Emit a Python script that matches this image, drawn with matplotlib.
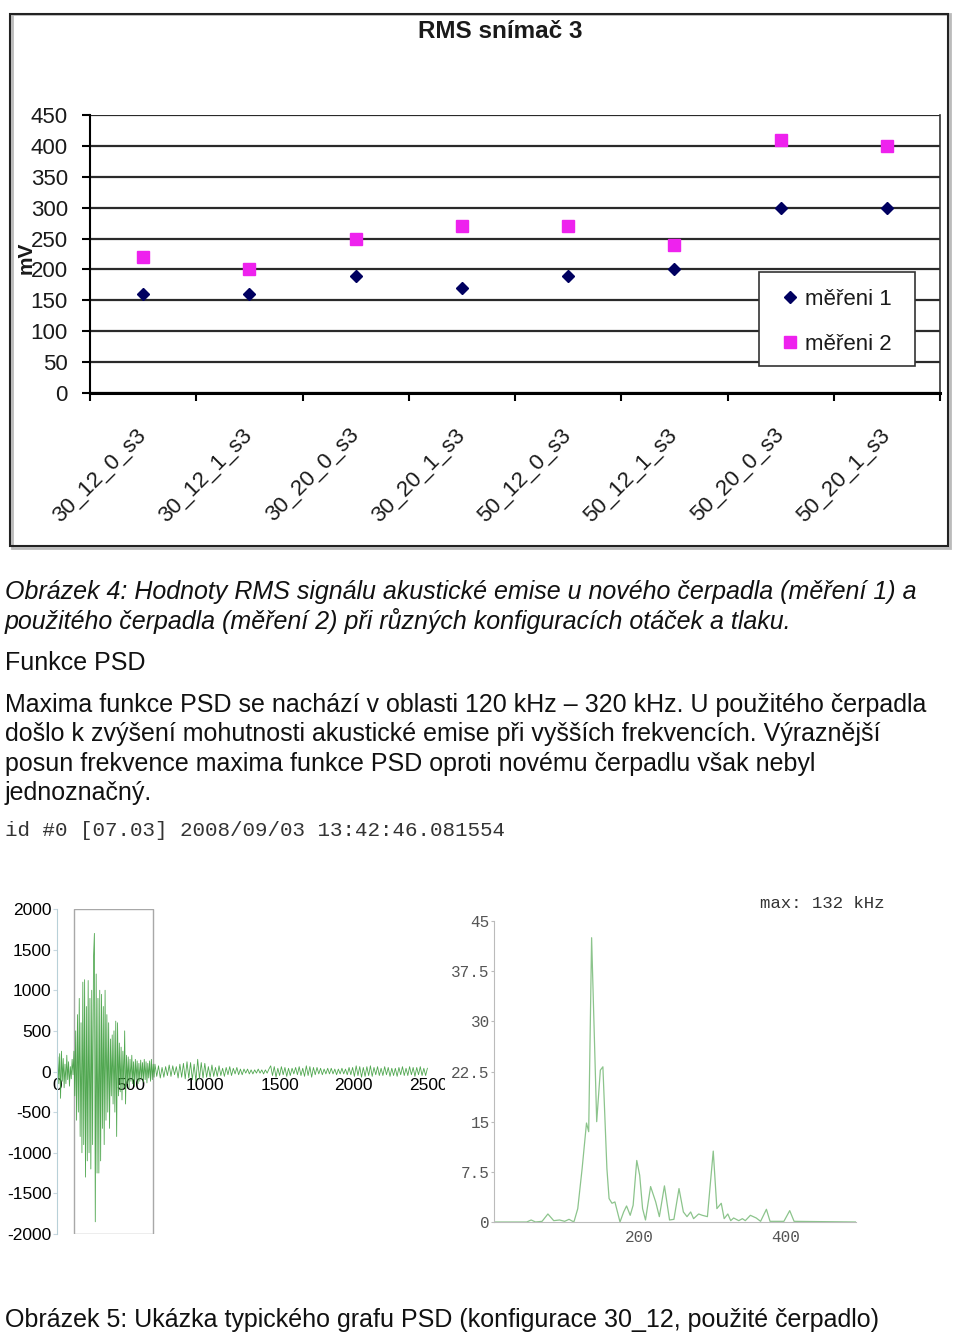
import numpy as np
import matplotlib
matplotlib.use('Agg')
import matplotlib.pyplot as plt
from matplotlib.patches import Rectangle
from matplotlib.transforms import Bbox, TransformedBbox

plt.rcParams['font.family'] = ['Liberation Sans', 'DejaVu Sans']
plt.rcParams['axes.unicode_minus'] = False

# --- data: RMS chart ---
categories = ['30_12_0_s3', '30_12_1_s3', '30_20_0_s3', '30_20_1_s3',
              '50_12_0_s3', '50_12_1_s3', '50_20_0_s3', '50_20_1_s3']
mereni1 = [160, 160, 190, 170, 190, 200, 300, 300]
mereni2 = [220, 200, 250, 270, 270, 240, 410, 400]

# --- data: time signal (sample step 6 up to 654, then step 12) ---
wave_head = [0, 180, -150, 220, -330, 250, -120, 160, -200, 90, -150, 200, -100, 120, -180, 60, -90, 150, -40,
             250, -300, 500, -600, 700, -500, 900, -800, 600, -1000,
             1100, -900, 1130, -1300, 800, -1100, 1120, -1000, 900, -1200,
             1000, -900, 1400, 1700, -1850, 1200, -1250, 900, -1250, 1000,
             -1100, 950, -700, 800, -900, 1000, -600, 700, -500, 600,
             -700, 400, -300, 450, -400, 500, -500, 620, -800, 600,
             -300, 350, -250, 300, -350, 250, -200, 500, -400, 200,
             -150, 180, -200, 150, -120, 200, -150, 120, -180, 150,
             -100, 130, -150, 100, -120, 140, -90, 110, -130, 150,
             -100, 120, -140, 100, -80, 130, -120, 150, -100, 90, -70]
wave_tail = [90, -60, 70, -80, 50, -70, 60, -50, 80, -60, 70, -40, 60,
             -80, 90, -70, 100, -90, 120, -80, 110, -100, 90, -120, 150, -90, 110, -80, 100, -70,
             60, -70, 80, -60, 50, -60, 70, -50, 40, -60, 50, -40, 60, -50, 40, -30, 50, -40, 30, -40, 30, -20, 30, -30,
             20, -30, 20, -20, 30, -20, 20, -30, 20, -20, 30,
             70, -50, 60, -70, 40, -50, 60, -40, 50, -60, 40, -50, 40, -30, 50, -40, 60, -50, 40, -60, 70, -50, 60,
             -70, 50, -40, 50, -30, 40, -40, 30, -30, 40, -30, 40, -30, 30, -40, 30, -30, 40, -30, 30, -40, 50, -40, 50,
             -60, 70, -50, 60, -70, 50, -60, 60, -50, 70, -60, 50, -40, 60, -50, 40, -50, 60,
             -40, 50, -60, 40, -50, 40, -60, 50, -40, 60, -50, 40, -50, 60, -40, 50, -60, 50, -40, 60, -50, 40, -50, 40]

# --- data: PSD ---
psd_freq = [0, 45, 51, 57, 66, 74, 82, 90, 97, 103, 108, 110, 115, 121, 127, 130, 134, 141, 146, 149.5,
            155, 158, 162, 166, 173, 178, 182, 187, 191, 196, 200, 204, 208, 215, 222, 227, 234, 241, 247, 254,
            260, 265, 270, 274, 281, 286, 293, 301, 306, 312, 316, 321, 325, 329, 336, 341, 345, 352, 360, 366,
            374, 379, 398, 406, 412, 497]
psd_val = [0, 0, 0.3, 0, 0.1, 1.2, 0.2, 0.3, 0.1, 0.4, 0.1, 0.1, 2, 8, 14.8, 13.5, 42.5, 15, 22.7, 23.2,
           8, 3.5, 2.8, 3, 0, 1.5, 2.4, 1, 2.5, 9.2, 7, 2, 0.3, 5.3, 3, 0.8, 5.4, 0.3, 0.4, 5,
           1.5, 0.8, 1.5, 0.5, 1.2, 1.0, 0.8, 10.6, 2, 2.8, 0.5, 1.2, 0.2, 0.6, 0.2, 0.5, 0.2, 1.0, 0.6, 0.1,
           1.9, 0.1, 0.1, 1.7, 0.1, 0]
psd_yticks = [0, 7.5, 15, 22.5, 30, 37.5, 45]
psd_ylabels = ['0', '7.5', '15', '22.5', '30', '37.5', '45']

W, H = 960, 1337
def fx(px): return px / W
def fy(py): return 1 - py / H
def box(l, t, r, b): return [fx(l), fy(b), (r - l) / W, (b - t) / H]

fig = plt.figure(figsize=(9.6, 13.37), dpi=100)

# outer frame of the RMS chart
fig.patches.append(Rectangle((fx(12), fy(548)), (938) / W, (534) / H, transform=fig.transFigure,
                             fill=False, edgecolor='#bbbbbb', lw=2))
fig.patches.append(Rectangle((fx(10), fy(546)), (938) / W, (532) / H, transform=fig.transFigure,
                             fill=False, edgecolor='#222222', lw=1.5))

ax = fig.add_axes(box(90, 115, 940, 393))
x = np.arange(len(categories)) + 0.5
ax.plot(x, mereni1, 'D', color='#000060', ms=6, label='měřeni 1', zorder=3)
ax.plot(x, mereni2, 's', color='#ee22ee', ms=8, label='měřeni 2', zorder=3)
ax.set_xlim(0, len(categories))
ax.set_ylim(0, 450)
ax.set_yticks(np.arange(0, 451, 50))
ax.grid(axis='y', color='#2a2a2a', lw=1.6)
ax.set_axisbelow(True)
ax.spines['top'].set_visible(False)
ax.spines['right'].set_color('#333333')
ax.spines['right'].set_linewidth(1.2)
ax.spines['left'].set_linewidth(1.5)
ax.spines['bottom'].set_linewidth(2.2)
ax.tick_params(axis='y', length=6, width=1.5, pad=10, labelsize=16, labelcolor='#1a1a1a')
ax.set_xticks(x)
ax.set_xticklabels(categories, rotation=45, ha='right', va='center', rotation_mode='anchor',
                   fontsize=16, color='#1a1a1a')
ax.tick_params(axis='x', length=0, pad=28)
ax.set_xticks(np.arange(0, len(categories) + 1), minor=True)
ax.tick_params(axis='x', which='minor', length=6, width=1.5, direction='out')
fig.text(fx(500), fy(31), 'RMS snímač 3', ha='center', va='center', fontsize=17.5, weight='bold', color='#1a1a1a')
fig.text(fx(26), fy(258), 'mV', ha='center', va='center', rotation=90, fontsize=15, weight='bold', color='#1a1a1a')

# legend: own frame, entries placed inside
ax.add_patch(Rectangle((fx(759), fy(366)), 156 / W, 94 / H, transform=fig.transFigure, clip_on=False,
                       facecolor='white', edgecolor='#333333', lw=1.2, zorder=4))
leg = ax.legend(loc='upper left', bbox_to_anchor=(fx(783), fy(289)), bbox_transform=fig.transFigure,
                fontsize=16, frameon=False, handlelength=0.6, handletextpad=0.4,
                labelspacing=1.08, borderpad=0, borderaxespad=0, labelcolor='#1a1a1a')
leg.set_zorder(5)

# --- body text ---
txt = dict(fontsize=18, color='#111111', ha='left', va='center')
fig.text(fx(5), fy(592), 'Obrázek 4: Hodnoty RMS signálu akustické emise u nového čerpadla (měření 1) a',
         style='italic', **txt)
fig.text(fx(5), fy(621), 'použitého čerpadla (měření 2) při různých konfiguracích otáček a tlaku.',
         style='italic', **txt)
fig.text(fx(5), fy(663), 'Funkce PSD', **txt)
para = ['Maxima funkce PSD se nachází v oblasti 120 kHz – 320 kHz. U použitého čerpadla',
        'došlo k zvýšení mohutnosti akustické emise při vyšších frekvencích. Výraznější',
        'posun frekvence maxima funkce PSD oproti novému čerpadlu však nebyl',
        'jednoznačný.']
for i, line in enumerate(para):
    fig.text(fx(5), fy(705 + i * 29.3), line, **txt)
fig.text(fx(5), fy(831), 'id #0 [07.03] 2008/09/03 13:42:46.081554', fontsize=15,
         family=['Liberation Mono', 'DejaVu Sans Mono'], color='#333333', ha='left', va='center')
fig.text(fx(5), fy(1320), 'Obrázek 5: Ukázka typického grafu PSD (konfigurace 30_12, použité čerpadlo)', **txt)

# --- time signal ---
ax2 = fig.add_axes(box(57, 909, 428, 1234))
t_head = np.arange(len(wave_head)) * 6
t_tail = 660 + np.arange(len(wave_tail)) * 12
t = np.concatenate([t_head, t_tail])
sig = np.array(wave_head + wave_tail)
ax2.plot(t, sig, color='#3e9e3e', lw=0.6, alpha=0.9)
ax2.add_patch(Rectangle((115, -2000), 530, 4000, fill=False, edgecolor='#a8a8a8', lw=1))
ax2.set_xlim(0, 2500)
ax2.set_ylim(-2000, 2000)
ax2.set_facecolor('none')
for s in ['top', 'right']:
    ax2.spines[s].set_visible(False)
ax2.spines['bottom'].set_position(('data', 0))
ax2.spines['bottom'].set_visible(False)
ax2.spines['left'].set_color('#b8d0d8')
ax2.set_xticks([0, 500, 1000, 1500, 2000, 2500])
ax2.set_yticks(np.arange(-2000, 2001, 500))
ax2.tick_params(axis='x', length=0, pad=5, labelsize=12.5)
ax2.tick_params(axis='y', length=3, color='#c8d8e0', pad=1, labelsize=12.5)
clip = TransformedBbox(Bbox([[0, 0], [fx(445), 1]]), fig.transFigure)
for lab in ax2.get_xticklabels():
    lab.set_clip_box(clip)
    lab.set_clip_on(True)

# --- PSD ---
ax3 = fig.add_axes(box(494, 921, 856, 1222))
ax3.plot(psd_freq, psd_val, color='#8cc48c', lw=0.9)
ax3.set_xlim(0, 497)
ax3.set_ylim(0, 45)
for s in ['top', 'right']:
    ax3.spines[s].set_visible(False)
for s in ['left', 'bottom']:
    ax3.spines[s].set_color('#bbbbbb')
ax3.set_yticks(psd_yticks)
ax3.set_yticklabels(psd_ylabels)
ax3.set_xticks([200, 400])
mono = ['Liberation Mono', 'DejaVu Sans Mono']
for lab in ax3.get_xticklabels() + ax3.get_yticklabels():
    lab.set_family(mono)
ax3.tick_params(axis='y', length=2, color='#bbbbbb', pad=1, labelsize=11.5, labelcolor='#555555')
ax3.tick_params(axis='x', length=0, pad=6, labelsize=11.5, labelcolor='#555555')
fig.text(fx(885), fy(903), 'max: 132 kHz', ha='right', va='center', fontsize=12.5,
         family=mono, color='#333333')

fig.savefig('out.png', dpi=100)
